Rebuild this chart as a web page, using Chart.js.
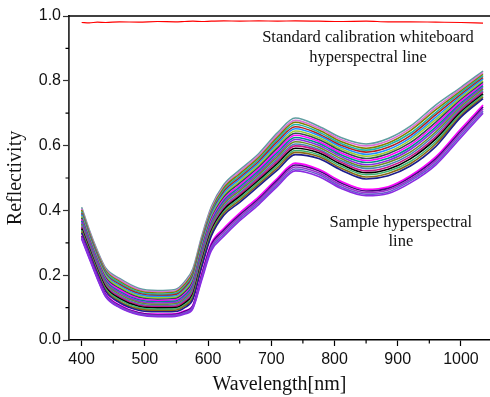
<!DOCTYPE html>
<html>
<head>
<meta charset="utf-8">
<script src="https://cdn.jsdelivr.net/npm/chart.js@4.4.1/dist/chart.umd.min.js"></script>
<style>
  html, body { margin: 0; padding: 0; background: #fff; }
</style>
</head>
<body>
<canvas id="chart" width="490" height="397"></canvas>
<script>
// wavelength samples (nm) shared by every curve
const wavelengths = [400, 412, 425, 438, 460, 490, 520, 548, 563, 576, 590, 605, 625, 650, 680, 710, 738, 775, 810, 850, 885, 920, 960, 1000, 1035];

// standard calibration whiteboard
const whiteboard = [0.980, 0.979, 0.981, 0.980, 0.982, 0.981, 0.983, 0.982, 0.983, 0.984, 0.983, 0.984, 0.985, 0.984, 0.985, 0.984, 0.985, 0.984, 0.983, 0.984, 0.982, 0.982, 0.981, 0.980, 0.978];

// sample spectra, main bundle (bottom to top)
const main01 = [.330,.270,.205,.150,.115,.092,.087,.088,.100,.125,.225,.320,.385,.425,.475,.525,.572,.560,.525,.497,.507,.537,.597,.688,.745];
const main02 = [.335,.274,.209,.154,.119,.096,.091,.092,.105,.131,.231,.325,.391,.431,.481,.532,.579,.566,.531,.503,.514,.544,.605,.693,.750];
const main03 = [.339,.278,.213,.158,.124,.100,.095,.096,.109,.136,.236,.331,.396,.437,.487,.539,.585,.572,.537,.510,.521,.551,.612,.699,.755];
const main04 = [.344,.282,.217,.163,.128,.104,.099,.100,.114,.142,.242,.336,.402,.443,.493,.545,.592,.578,.543,.516,.527,.559,.620,.704,.760];
const main05 = [.349,.286,.221,.167,.133,.108,.103,.104,.119,.147,.247,.341,.407,.449,.499,.552,.599,.584,.549,.522,.534,.566,.627,.710,.765];
const main06 = [.354,.291,.226,.171,.137,.112,.106,.108,.124,.153,.253,.346,.413,.454,.504,.559,.605,.589,.554,.529,.541,.573,.635,.715,.770];
const main07 = [.358,.295,.230,.175,.141,.116,.110,.112,.128,.159,.259,.352,.419,.460,.510,.566,.612,.595,.560,.535,.548,.580,.642,.720,.775];
const main08 = [.363,.299,.234,.179,.146,.120,.114,.116,.133,.164,.264,.357,.424,.466,.516,.572,.619,.601,.566,.541,.554,.588,.650,.726,.780];
const main09 = [.368,.303,.238,.184,.150,.124,.118,.120,.138,.170,.270,.362,.430,.472,.522,.579,.625,.607,.572,.548,.561,.595,.657,.731,.785];
const main10 = [.372,.307,.242,.188,.155,.128,.122,.124,.142,.175,.275,.368,.435,.478,.528,.586,.632,.613,.578,.554,.568,.602,.665,.737,.790];
const main11 = [.377,.311,.246,.192,.159,.132,.126,.128,.147,.181,.281,.373,.441,.484,.534,.593,.638,.619,.584,.560,.575,.609,.672,.742,.795];
const main12 = [.382,.315,.250,.197,.164,.136,.130,.132,.152,.186,.286,.378,.446,.490,.540,.599,.645,.625,.590,.567,.581,.617,.680,.748,.800];
const main13 = [.387,.319,.254,.201,.168,.140,.134,.136,.156,.192,.292,.384,.452,.496,.546,.606,.652,.631,.596,.573,.588,.624,.687,.753,.805];
const main14 = [.391,.324,.259,.205,.172,.144,.137,.140,.161,.198,.298,.389,.458,.501,.551,.613,.658,.636,.601,.580,.595,.631,.695,.758,.810];
const main15 = [.396,.328,.263,.209,.177,.148,.141,.144,.166,.203,.303,.394,.463,.507,.557,.620,.665,.642,.607,.586,.602,.638,.702,.764,.815];
const main16 = [.401,.332,.267,.214,.181,.152,.145,.148,.171,.209,.309,.399,.469,.513,.563,.626,.672,.648,.613,.592,.608,.646,.710,.769,.820];
const main17 = [.405,.336,.271,.218,.186,.156,.149,.152,.175,.214,.314,.405,.474,.519,.569,.633,.678,.654,.619,.599,.615,.653,.717,.775,.825];
const main18 = [.410,.340,.275,.222,.190,.160,.153,.156,.180,.220,.320,.410,.480,.525,.575,.640,.685,.660,.625,.605,.622,.660,.725,.780,.830];

// sample spectra, lower group (bottom to top)
const lower1 = [.312,.252,.188,.133,.100,.078,.072,.073,.080,.097,.185,.275,.320,.368,.418,.475,.522,.505,.468,.445,.452,.485,.540,.625,.700];
const lower2 = [.315,.255,.190,.135,.102,.080,.074,.075,.083,.100,.190,.281,.326,.374,.424,.481,.528,.511,.473,.450,.457,.491,.546,.632,.706];
const lower3 = [.317,.257,.193,.138,.104,.082,.076,.077,.085,.103,.195,.287,.333,.380,.430,.488,.534,.516,.479,.455,.463,.496,.553,.639,.713];
const lower4 = [.320,.260,.195,.140,.106,.084,.078,.079,.088,.105,.200,.293,.339,.386,.436,.494,.540,.522,.485,.460,.468,.502,.559,.645,.719];
const lower5 = [.322,.262,.197,.142,.108,.085,.080,.081,.090,.108,.205,.298,.345,.392,.442,.500,.546,.527,.490,.465,.473,.507,.565,.652,.725];

const mainSeries = [main01, main02, main03, main04, main05, main06, main07, main08, main09,
  main10, main11, main12, main13, main14, main15, main16, main17, main18];
const lowerSeries = [lower1, lower2, lower3, lower4, lower5];

// axis ticks
const xTicks = [400, 500, 600, 700, 800, 900, 1000];
const xMinorTicks = [450, 550, 650, 750, 850, 950];
const yMinorTicks = [0.1, 0.3, 0.5, 0.7, 0.9];

const mainColors = ['#1c1c8c', '#8b6914', '#3cb371', '#000000', '#c71585', '#4682b4', '#6b8e23', '#8a2be2', '#008b8b',
  '#ff00ff', '#2f4f4f', '#9acd32', '#1e90ff', '#b22222', '#20b2aa', '#808000', '#da70d6', '#5f9ea0'];
const lowerColors = ['#8a2be2', '#6a5acd', '#9932cc', '#4b0082', '#ff00ff'];

const toPoints = (values) => values.map((v, i) => ({ x: wavelengths[i], y: v }));

const datasets = [];
lowerSeries.forEach((s, i) => {
  datasets.push({ label: 'lower' + (i + 1), data: toPoints(s), borderColor: lowerColors[i], borderWidth: 1.6 });
});
mainSeries.forEach((s, i) => {
  datasets.push({ label: 'main' + (i + 1), data: toPoints(s), borderColor: mainColors[i], borderWidth: 1.6 });
});
datasets.push({ label: 'whiteboard', data: toPoints(whiteboard), borderColor: '#ff0000', borderWidth: 1.2 });

const decorations = {
  id: 'decorations',
  afterDraw(chart) {
    const { ctx, chartArea, scales } = chart;
    const x = scales.x, y = scales.y;
    ctx.save();
    // top frame
    ctx.strokeStyle = '#000';
    ctx.lineWidth = 1.5;
    ctx.beginPath();
    ctx.moveTo(chartArea.left - 0.75, chartArea.top);
    ctx.lineTo(chartArea.right, chartArea.top);
    ctx.stroke();
    // minor ticks
    ctx.lineWidth = 1.2;
    ctx.beginPath();
    xMinorTicks.forEach(v => {
      const px = x.getPixelForValue(v);
      ctx.moveTo(px, chartArea.bottom);
      ctx.lineTo(px, chartArea.bottom + 3.5);
    });
    yMinorTicks.forEach(v => {
      const py = y.getPixelForValue(v);
      ctx.moveTo(chartArea.left, py);
      ctx.lineTo(chartArea.left - 3.5, py);
    });
    ctx.stroke();
    // notes
    ctx.fillStyle = '#111';
    ctx.font = '16.5px "Liberation Serif", "Times New Roman", serif';
    ctx.textAlign = 'center';
    ctx.textBaseline = 'alphabetic';
    let px = x.getPixelForValue(853), py = y.getPixelForValue(0.921);
    ctx.fillText('Standard calibration whiteboard', px, py);
    ctx.fillText('hyperspectral line', px, py + 20);
    px = x.getPixelForValue(905); py = y.getPixelForValue(0.349);
    ctx.fillText('Sample hyperspectral', px, py);
    ctx.fillText('line', px, py + 19.5);
    ctx.restore();
  }
};

new Chart(document.getElementById('chart'), {
  type: 'line',
  data: { datasets },
  options: {
    responsive: false,
    animation: false,
    devicePixelRatio: 1,
    layout: { padding: { top: 16, right: 0, left: 0, bottom: 0 } },
    elements: {
      point: { radius: 0 },
      line: { cubicInterpolationMode: 'monotone', fill: false }
    },
    plugins: { legend: { display: false }, tooltip: { enabled: false } },
    scales: {
      x: {
        type: 'linear',
        min: 380,
        max: 1046,
        afterBuildTicks: (scale) => { scale.ticks = xTicks.map(v => ({ value: v })); },
        afterFit: (scale) => { scale.height = 57; },
        border: { display: true, color: '#000', width: 1.5 },
        grid: { display: true, drawOnChartArea: false, drawTicks: true, tickLength: 6, tickColor: '#000', tickWidth: 1.2 },
        ticks: {
          padding: 4,
          color: '#111',
          font: { family: '"Liberation Sans", Arial, sans-serif', size: 16 },
          maxRotation: 0,
          callback: (v) => String(v)
        },
        title: {
          display: true,
          text: 'Wavelength[nm]',
          color: '#111',
          padding: { top: 0, bottom: 0 },
          font: { family: '"Liberation Serif", "Times New Roman", serif', size: 20 }
        }
      },
      y: {
        min: 0,
        max: 1,
        afterFit: (scale) => { scale.width = 69; },
        border: { display: true, color: '#333', width: 1.8 },
        grid: { display: true, drawOnChartArea: false, drawTicks: true, tickLength: 6, tickColor: '#333', tickWidth: 1.2 },
        ticks: {
          stepSize: 0.2,
          padding: 2,
          color: '#111',
          font: { family: '"Liberation Sans", Arial, sans-serif', size: 16 },
          callback: (v) => v.toFixed(1)
        },
        title: {
          display: true,
          text: 'Reflectivity',
          color: '#111',
          padding: { top: 4, bottom: 0 },
          font: { family: '"Liberation Serif", "Times New Roman", serif', size: 20 }
        }
      }
    }
  },
  plugins: [decorations]
});
</script>
</body>
</html>
